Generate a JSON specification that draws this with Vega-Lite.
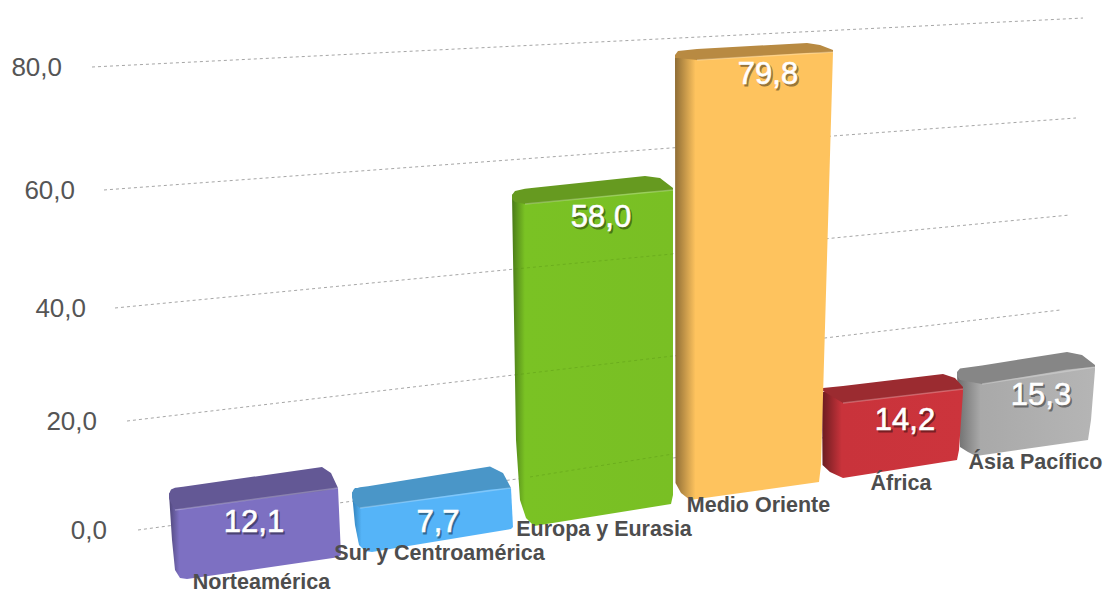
{
  "$schema": "https://vega.github.io/schema/vega-lite/v6.json",
  "width": 1103, "height": 592, "padding": 0,
  "autosize": {"type": "none"},
  "background": "white",
  "config": {"view": {"stroke": null},
    "locale": {"number": {"decimal": ",", "thousands": ".", "grouping": [3], "currency": ["", " €"]}}},
  "datasets": {
    "rejilla": [
      {"valor": 0, "x": 13.8, "x2": 100.0, "y": 0, "y2": 20.04},
      {"valor": 20, "x": 12.7, "x2": 106.0, "y": 18.83, "y2": 38.01},
      {"valor": 40, "x": 11.5, "x2": 107.0, "y": 38.36, "y2": 54.43},
      {"valor": 60, "x": 10.4, "x2": 107.6, "y": 58.75, "y2": 71.19},
      {"valor": 80, "x": 9.2, "x2": 108.3, "y": 80, "y2": 88.46}
    ],
    "rejillaVerde": [
      {"valor": 0, "x": 53.0, "x2": 67.3, "y": 9.16, "y2": 13.13},
      {"valor": 20, "x": 51.5, "x2": 67.3, "y": 26.8, "y2": 30.07},
      {"valor": 40, "x": 51.5, "x2": 67.3, "y": 45.1, "y2": 47.7}
    ],
    "ejes": [
      {"valor": 80, "x": 6.2, "y": 80},
      {"valor": 60, "x": 7.5, "y": 58.75},
      {"valor": 40, "x": 8.6, "y": 38.36},
      {"valor": 20, "x": 9.7, "y": 18.83},
      {"valor": 0, "x": 10.7, "y": 0}
    ],
    "caras": [
      {"cara": "Ásia cuerpo", "x": 95.7, "y": 26.9, "y2": 26.9},
      {"cara": "Ásia cuerpo", "x": 96.0, "y": 27.3, "y2": 14.34},
      {"cara": "Ásia cuerpo", "x": 96.8, "y": 27.3, "y2": 13.48},
      {"cara": "Ásia cuerpo", "x": 97.6, "y": 27.3, "y2": 12.79},
      {"cara": "Ásia cuerpo", "x": 108.8, "y": 28.16, "y2": 15.55},
      {"cara": "Ásia cuerpo", "x": 109.1, "y": 28.16, "y2": 19.01},
      {"cara": "Ásia cuerpo", "x": 109.5, "y": 28.16, "y2": 27.65},
      {"cara": "Ásia techo", "x": 95.7, "y": 27.3, "y2": 26.61},
      {"cara": "Ásia techo", "x": 96.0, "y": 27.9, "y2": 25.92},
      {"cara": "Ásia techo", "x": 98.2, "y": 28.42, "y2": 25.23},
      {"cara": "Ásia techo", "x": 106.7, "y": 30.76, "y2": 27.73},
      {"cara": "Ásia techo", "x": 108.2, "y": 30.24, "y2": 27.99},
      {"cara": "Ásia techo", "x": 109.5, "y": 28.51, "y2": 28.16},

      {"cara": "África cuerpo", "x": 82.2, "y": 23.85, "y2": 23.85},
      {"cara": "África cuerpo", "x": 82.25, "y": 23.85, "y2": 11.23},
      {"cara": "África cuerpo", "x": 83.0, "y": 23.85, "y2": 10.02},
      {"cara": "África cuerpo", "x": 84.3, "y": 23.85, "y2": 8.99},
      {"cara": "África cuerpo", "x": 95.7, "y": 24.54, "y2": 12.1},
      {"cara": "África cuerpo", "x": 95.9, "y": 24.54, "y2": 13.82},
      {"cara": "África cuerpo", "x": 96.3, "y": 24.54, "y2": 23.85},
      {"cara": "África techo", "x": 82.3, "y": 24.54, "y2": 24.02},
      {"cara": "África techo", "x": 84.3, "y": 24.88, "y2": 21.94},
      {"cara": "África techo", "x": 94.3, "y": 26.96, "y2": 24.02},
      {"cara": "África techo", "x": 95.5, "y": 26.26, "y2": 24.19},
      {"cara": "África techo", "x": 96.3, "y": 24.71, "y2": 24.36},

      {"cara": "Sur cuerpo", "x": 35.2, "y": 6.39, "y2": 6.39},
      {"cara": "Sur cuerpo", "x": 35.5, "y": 7.26, "y2": 0.86},
      {"cara": "Sur cuerpo", "x": 35.9, "y": 7.26, "y2": -2.59},
      {"cara": "Sur cuerpo", "x": 36.5, "y": 7.26, "y2": -3.63},
      {"cara": "Sur cuerpo", "x": 37.2, "y": 7.26, "y2": -3.8},
      {"cara": "Sur cuerpo", "x": 51.1, "y": 7.26, "y2": 0.17},
      {"cara": "Sur cuerpo", "x": 51.3, "y": 0.52, "y2": 0.52},
      {"cara": "Sur techo", "x": 35.2, "y": 6.39, "y2": 5.7},
      {"cara": "Sur techo", "x": 35.4, "y": 7.08, "y2": 4.67},
      {"cara": "Sur techo", "x": 36.0, "y": 7.4, "y2": 3.8},
      {"cara": "Sur techo", "x": 36.8, "y": 7.55, "y2": 3.97},
      {"cara": "Sur techo", "x": 49.0, "y": 10.97, "y2": 6.98},
      {"cara": "Sur techo", "x": 50.3, "y": 9.85, "y2": 7.17},
      {"cara": "Sur techo", "x": 51.1, "y": 7.26, "y2": 7.26},

      {"cara": "Norte cuerpo", "x": 16.9, "y": 6.22, "y2": 6.22},
      {"cara": "Norte cuerpo", "x": 17.2, "y": 6.91, "y2": -1.73},
      {"cara": "Norte cuerpo", "x": 17.5, "y": 6.91, "y2": -6.91},
      {"cara": "Norte cuerpo", "x": 18.0, "y": 6.91, "y2": -8.29},
      {"cara": "Norte cuerpo", "x": 18.7, "y": 6.91, "y2": -8.47},
      {"cara": "Norte cuerpo", "x": 33.8, "y": 7.26, "y2": -4.73},
      {"cara": "Norte cuerpo", "x": 34.1, "y": -4.32, "y2": -4.32},
      {"cara": "Norte techo", "x": 16.9, "y": 6.22, "y2": 5.53},
      {"cara": "Norte techo", "x": 17.1, "y": 7.0, "y2": 4.67},
      {"cara": "Norte techo", "x": 17.5, "y": 7.31, "y2": 3.63},
      {"cara": "Norte techo", "x": 18.3, "y": 7.48, "y2": 3.63},
      {"cara": "Norte techo", "x": 32.2, "y": 10.89, "y2": 6.74},
      {"cara": "Norte techo", "x": 33.1, "y": 9.85, "y2": 7.0},
      {"cara": "Norte techo", "x": 33.8, "y": 7.26, "y2": 7.26},

      {"cara": "Europa cuerpo", "x": 51.2, "y": 57.88, "y2": 57.88},
      {"cara": "Europa cuerpo", "x": 51.6, "y": 58.4, "y2": 15.55},
      {"cara": "Europa cuerpo", "x": 52.0, "y": 58.4, "y2": 5.18},
      {"cara": "Europa cuerpo", "x": 52.6, "y": 58.4, "y2": 2.07},
      {"cara": "Europa cuerpo", "x": 53.4, "y": 58.4, "y2": 0.69},
      {"cara": "Europa cuerpo", "x": 67.1, "y": 58.75, "y2": 4.49},
      {"cara": "Europa cuerpo", "x": 67.3, "y": 58.75, "y2": 6.05},
      {"cara": "Europa techo", "x": 51.2, "y": 57.88, "y2": 57.19},
      {"cara": "Europa techo", "x": 51.5, "y": 58.58, "y2": 56.68},
      {"cara": "Europa techo", "x": 52.5, "y": 58.97, "y2": 56.33},
      {"cara": "Europa techo", "x": 53.4, "y": 59.13, "y2": 56.42},
      {"cara": "Europa techo", "x": 64.5, "y": 61.17, "y2": 58.4},
      {"cara": "Europa techo", "x": 66.0, "y": 60.82, "y2": 58.54},
      {"cara": "Europa techo", "x": 67.3, "y": 59.09, "y2": 58.75},

      {"cara": "Medio cuerpo", "x": 67.5, "y": 81.55, "y2": 81.55},
      {"cara": "Medio cuerpo", "x": 67.55, "y": 82.08, "y2": 8.12},
      {"cara": "Medio cuerpo", "x": 68.1, "y": 82.08, "y2": 6.39},
      {"cara": "Medio cuerpo", "x": 69.0, "y": 82.08, "y2": 5.18},
      {"cara": "Medio cuerpo", "x": 81.9, "y": 82.6, "y2": 8.29},
      {"cara": "Medio cuerpo", "x": 82.1, "y": 82.6, "y2": 11.23},
      {"cara": "Medio cuerpo", "x": 83.3, "y": 82.94, "y2": 82.6},
      {"cara": "Medio techo", "x": 67.5, "y": 82.08, "y2": 81.55},
      {"cara": "Medio techo", "x": 67.8, "y": 82.77, "y2": 81.55},
      {"cara": "Medio techo", "x": 69.7, "y": 83.11, "y2": 81.21},
      {"cara": "Medio techo", "x": 80.7, "y": 84.14, "y2": 82.42},
      {"cara": "Medio techo", "x": 82.0, "y": 83.8, "y2": 82.46},
      {"cara": "Medio techo", "x": 83.3, "y": 82.94, "y2": 82.6}
    ],
    "brillos": [
      {"barra": "Norteamérica", "x": 17.5, "y": 3.46},
      {"barra": "Norteamérica", "x": 33.8, "y": 7.26},
      {"barra": "Sur", "x": 36.0, "y": 3.8},
      {"barra": "Sur", "x": 51.1, "y": 7.26},
      {"barra": "Europa", "x": 52.5, "y": 56.33},
      {"barra": "Europa", "x": 67.3, "y": 58.75},
      {"barra": "Medio", "x": 69.7, "y": 81.21},
      {"barra": "Medio", "x": 83.3, "y": 82.6},
      {"barra": "África", "x": 84.3, "y": 21.94},
      {"barra": "África", "x": 96.3, "y": 24.36},
      {"barra": "Ásia", "x": 98.2, "y": 25.23},
      {"barra": "Ásia", "x": 109.5, "y": 28.16}
    ],
    "barras": [
      {"region": "Norteamérica", "valor": 12.1, "xv": 25.4, "yv": 1.38, "xn": 26.15, "yn": -9.2},
      {"region": "Sur y Centroamérica", "valor": 7.7, "xv": 43.8, "yv": 1.38, "xn": 43.95, "yn": -4.15},
      {"region": "Europa y Eurasia", "valor": 58.0, "xv": 60.1, "yv": 54.08, "xn": 60.4, "yn": 0},
      {"region": "Medio Oriente", "valor": 79.8, "xv": 76.8, "yv": 78.79, "xn": 75.85, "yn": 4.15},
      {"region": "África", "valor": 14.2, "xv": 90.5, "yv": 19.01, "xn": 90.1, "yn": 7.95},
      {"region": "Ásia Pacífico", "valor": 15.3, "xv": 104.1, "yv": 23.33, "xn": 103.55, "yn": 11.58}
    ]
  },
  "encoding": {
    "x": {"field": "x", "type": "quantitative", "axis": null, "scale": {"domain": [0, 110.3], "nice": false, "zero": false}},
    "y": {"field": "y", "type": "quantitative", "axis": null, "scale": {"domain": [-10.713, 91.577], "nice": false, "zero": false}}
  },
  "layer": [
    {
      "data": {"name": "rejilla"},
      "mark": {"type": "rule", "stroke": "#a6a6a6", "strokeWidth": 1, "strokeDash": [3, 3]},
      "encoding": {"x2": {"field": "x2"}, "y2": {"field": "y2"}}
    },
    {
      "data": {"name": "ejes"},
      "mark": {"type": "text", "align": "right", "baseline": "middle", "font": "Liberation Sans", "fontSize": 26, "fill": "#555555", "dy": 1},
      "encoding": {"text": {"field": "valor", "type": "quantitative", "format": ".1f"}}
    },
    {
      "data": {"name": "caras"}, "transform": [{"filter": "datum.cara === 'Ásia cuerpo'"}],
      "mark": {"type": "area", "color": {"gradient": "linear", "x1": 0, "y1": 0, "x2": 1, "y2": 0, "stops": [{"offset": 0, "color": "#6e6e6e"}, {"offset": 0.17, "color": "#a9a9a9"}, {"offset": 1, "color": "#b5b5b5"}]}},
      "encoding": {"y2": {"field": "y2"}}
    },
    {
      "data": {"name": "caras"}, "transform": [{"filter": "datum.cara === 'Ásia techo'"}],
      "mark": {"type": "area", "color": "#868686"},
      "encoding": {"y2": {"field": "y2"}}
    },
    {
      "data": {"name": "caras"}, "transform": [{"filter": "datum.cara === 'África cuerpo'"}],
      "mark": {"type": "area", "color": {"gradient": "linear", "x1": 0, "y1": 0, "x2": 1, "y2": 0, "stops": [{"offset": 0, "color": "#6b1c20"}, {"offset": 0.14, "color": "#c9333b"}, {"offset": 1, "color": "#cc343c"}]}},
      "encoding": {"y2": {"field": "y2"}}
    },
    {
      "data": {"name": "caras"}, "transform": [{"filter": "datum.cara === 'África techo'"}],
      "mark": {"type": "area", "color": "#9b2b30"},
      "encoding": {"y2": {"field": "y2"}}
    },
    {
      "data": {"name": "caras"}, "transform": [{"filter": "datum.cara === 'Sur cuerpo'"}],
      "mark": {"type": "area", "color": {"gradient": "linear", "x1": 0, "y1": 0, "x2": 1, "y2": 0, "stops": [{"offset": 0, "color": "#2f7fb8"}, {"offset": 0.06, "color": "#55b4f8"}, {"offset": 1, "color": "#55b4f8"}]}},
      "encoding": {"y2": {"field": "y2"}}
    },
    {
      "data": {"name": "caras"}, "transform": [{"filter": "datum.cara === 'Sur techo'"}],
      "mark": {"type": "area", "color": "#4a96c8"},
      "encoding": {"y2": {"field": "y2"}}
    },
    {
      "data": {"name": "caras"}, "transform": [{"filter": "datum.cara === 'Norte cuerpo'"}],
      "mark": {"type": "area", "color": {"gradient": "linear", "x1": 0, "y1": 0, "x2": 1, "y2": 0, "stops": [{"offset": 0, "color": "#4f4679"}, {"offset": 0.06, "color": "#7d70c2"}, {"offset": 1, "color": "#7d70c2"}]}},
      "encoding": {"y2": {"field": "y2"}}
    },
    {
      "data": {"name": "caras"}, "transform": [{"filter": "datum.cara === 'Norte techo'"}],
      "mark": {"type": "area", "color": "#635895"},
      "encoding": {"y2": {"field": "y2"}}
    },
    {
      "data": {"name": "caras"}, "transform": [{"filter": "datum.cara === 'Europa cuerpo'"}],
      "mark": {"type": "area", "color": {"gradient": "linear", "x1": 0, "y1": 0, "x2": 1, "y2": 0, "stops": [{"offset": 0, "color": "#4a7a18"}, {"offset": 0.08, "color": "#7ac224"}, {"offset": 1, "color": "#79bf24"}]}},
      "encoding": {"y2": {"field": "y2"}}
    },
    {
      "data": {"name": "caras"}, "transform": [{"filter": "datum.cara === 'Europa techo'"}],
      "mark": {"type": "area", "color": "#669a20"},
      "encoding": {"y2": {"field": "y2"}}
    },
    {
      "data": {"name": "caras"}, "transform": [{"filter": "datum.cara === 'Medio cuerpo'"}],
      "mark": {"type": "area", "color": {"gradient": "linear", "x1": 0, "y1": 0, "x2": 1, "y2": 0, "stops": [{"offset": 0, "color": "#8f6d35"}, {"offset": 0.13, "color": "#fec35e"}, {"offset": 1, "color": "#fec35e"}]}},
      "encoding": {"y2": {"field": "y2"}}
    },
    {
      "data": {"name": "caras"}, "transform": [{"filter": "datum.cara === 'Medio techo'"}],
      "mark": {"type": "area", "color": "#b88a42"},
      "encoding": {"y2": {"field": "y2"}}
    },
    {
      "data": {"name": "rejillaVerde"},
      "mark": {"type": "rule", "stroke": "#4f8a12", "strokeWidth": 1, "strokeDash": [3, 3], "opacity": 0.35},
      "encoding": {"x2": {"field": "x2"}, "y2": {"field": "y2"}}
    },
    {
      "data": {"name": "brillos"},
      "mark": {"type": "line", "stroke": "white", "strokeWidth": 1.5, "opacity": 0.25},
      "encoding": {"detail": {"field": "barra"}}
    },
    {
      "data": {"name": "barras"},
      "mark": {"type": "text", "align": "center", "baseline": "middle", "font": "Liberation Sans", "fontSize": 31, "fill": "#000000", "stroke": "#000000", "strokeWidth": 1, "opacity": 0.4, "dx": 1.5, "dy": 3},
      "encoding": {
        "x": {"field": "xv", "type": "quantitative"},
        "y": {"field": "yv", "type": "quantitative"},
        "text": {"field": "valor", "type": "quantitative", "format": ".1f"}
      }
    },
    {
      "data": {"name": "barras"},
      "mark": {"type": "text", "align": "center", "baseline": "middle", "font": "Liberation Sans", "fontSize": 31, "fill": "#ffffff", "stroke": "#ffffff", "strokeWidth": 0.6, "dy": 1},
      "encoding": {
        "x": {"field": "xv", "type": "quantitative"},
        "y": {"field": "yv", "type": "quantitative"},
        "text": {"field": "valor", "type": "quantitative", "format": ".1f"}
      }
    },
    {
      "data": {"name": "barras"},
      "mark": {"type": "text", "align": "center", "baseline": "middle", "font": "Liberation Sans", "fontWeight": "bold", "fontSize": 21.5, "fill": "#4d4d4d"},
      "encoding": {
        "x": {"field": "xn", "type": "quantitative"},
        "y": {"field": "yn", "type": "quantitative"},
        "text": {"field": "region", "type": "nominal"}
      }
    }
  ]
}
